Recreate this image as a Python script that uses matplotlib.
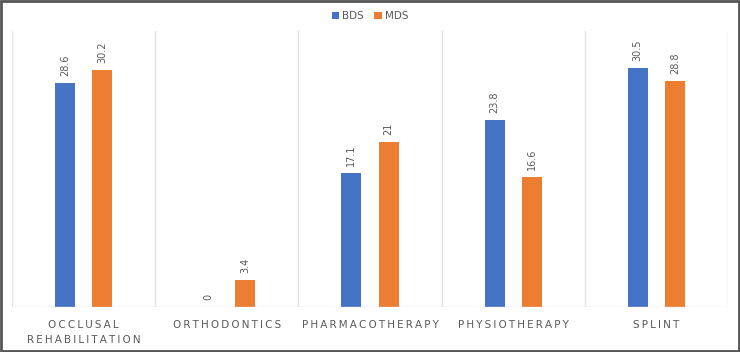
import numpy as np
import matplotlib.pyplot as plt
from matplotlib.patches import Rectangle

categories = ["OCCLUSAL\nREHABILITATION", "ORTHODONTICS", "PHARMACOTHERAPY",
              "PHYSIOTHERAPY", "SPLINT"]
bds = [28.6, 0, 17.1, 23.8, 30.5]
mds = [30.2, 3.4, 21, 16.6, 28.8]
bds_labels = ["28.6", "0", "17.1", "23.8", "30.5"]
mds_labels = ["30.2", "3.4", "21", "16.6", "28.8"]

blue = "#4472C4"
orange = "#ED7D31"
txt = "#595959"

fig = plt.figure(figsize=(7.4, 3.52), dpi=100)
ax = fig.add_axes([12/740, 1-307/352, 716/740, 276/352])

x = np.arange(len(categories))
w = 0.14
off = 0.13
ax.bar(x - off, bds, w, color=blue, label="BDS", zorder=3)
ax.bar(x + off, mds, w, color=orange, label="MDS", zorder=3)

for i in range(len(x)):
    ax.annotate(bds_labels[i], (x[i] - off, bds[i]), xytext=(0, 5), textcoords="offset points",
                rotation=90, ha="center", va="bottom", fontsize=7, color=txt)
    ax.annotate(mds_labels[i], (x[i] + off, mds[i]), xytext=(0, 5), textcoords="offset points",
                rotation=90, ha="center", va="bottom", fontsize=7, color=txt)

ax.set_xlim(-0.5, len(x) - 0.5)
ax.set_ylim(0, 35.2)

# vertical separators between categories
for b in np.arange(-0.5, len(x), 1.0):
    ax.axvline(b, color="#E3E3E3", lw=1, zorder=1)

for s in ax.spines.values():
    s.set_visible(False)
ax.axhline(0, color="#D9D9D9", lw=1, zorder=4)
ax.set_yticks([])
ax.set_xticks(x)

def spread(s):
    return "\n".join("\u2009".join(line) for line in s.split("\n"))

ax.set_xticklabels([spread(c) for c in categories], fontsize=7.5, color=txt, linespacing=1.7)
ax.tick_params(axis="x", length=0, pad=9)

fig.legend(loc="upper center", bbox_to_anchor=(0.5, 0.995), ncol=2, frameon=False,
           fontsize=7.5, handlelength=0.7, handleheight=0.7, columnspacing=1.0,
           handletextpad=0.3, labelcolor=txt)

fig.patches.append(Rectangle((0.0015, 0.003), 0.997, 0.994, transform=fig.transFigure,
                             fill=False, edgecolor="#555555", lw=2))

fig.savefig("out.png", dpi=100)
